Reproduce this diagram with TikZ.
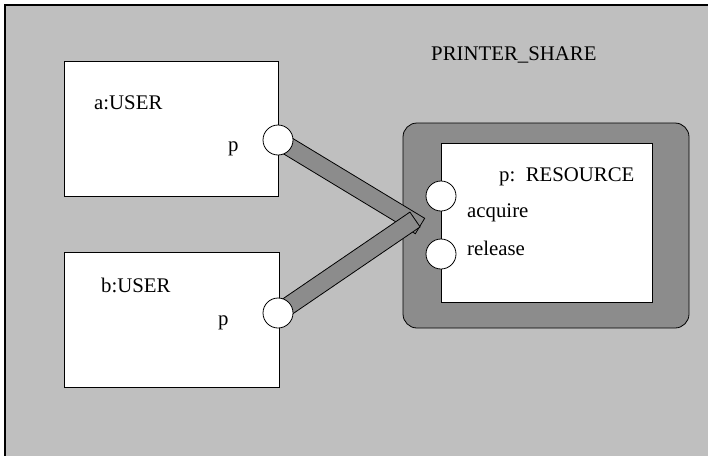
\documentclass[tikz,border=0pt]{standalone}
\usepackage{fontspec}
\setmainfont{Liberation Serif}
\usetikzlibrary{calc}
\definecolor{bgray}{RGB}{191,191,191}
\definecolor{dgray}{RGB}{140,140,140}
\tikzset{
  plainbox/.style={draw=black, line width=0.8pt, fill=white, inner sep=0pt},
  port/.style={circle, draw=black, line width=0.8pt, fill=white, inner sep=0pt, minimum size=30pt},
  lbl/.style={inner sep=0pt, anchor=base west, font=\fontsize{20.8}{25}\selectfont},
  shell/.style={draw=black, line width=0.8pt, fill=dgray, rounded corners=14pt, inner sep=0pt},
}
% thick bar from #1 to #2, outlined
\newcommand{\linkbar}[2]{%
  \filldraw[fill=dgray, draw=black, line width=0.8pt]
    ($(#1)!9pt!90:(#2)$) -- ($(#2)!9pt!-90:(#1)$) --
    ($(#2)!9pt!90:(#1)$) -- ($(#1)!9pt!-90:(#2)$) -- cycle;}
\begin{document}
\begin{tikzpicture}[x=1pt, y=-1pt]
  \useasboundingbox (0,0) rectangle (708,455);
  % outer frame
  \fill[bgray] (5,5) rectangle (712,460);
  \draw[line width=1.8pt] (5,460) -- (5,5) -- (712,5);

  % user components
  \node[plainbox, minimum width=214pt, minimum height=135pt] (ua) at (171,128.5) {};
  \node[plainbox, minimum width=215pt, minimum height=135pt] (ub) at (171.5,319.5) {};
  \node[lbl] (ualbl) at (94,109) {a:USER};
  \node[lbl] (ublbl) at (101,292) {b:USER};
  \node[lbl] (uap) at (228,151) {p};
  \node[lbl] (ubp) at (218,325) {p};

  % shared resource
  \node[shell, minimum width=286pt, minimum height=205pt] (shell) at (546,225.5) {};
  \node[plainbox, minimum width=211pt, minimum height=159pt] (res) at (546.5,222.5) {};
  \node[lbl] (reslbl) at (499,181) {p:\ \ RESOURCE};
  \node[lbl] (acqlbl) at (467,217) {acquire};
  \node[lbl] (rellbl) at (467,255) {release};
  \node[lbl] (title) at (431,60) {PRINTER\_SHARE};

  % port positions and bar ends
  \coordinate (pa) at (278,140);
  \coordinate (pb) at (278,313);
  \coordinate (tipA) at (420,226);
  \coordinate (tipB) at (415,219.5);

  % bindings
  \linkbar{pa}{tipA}
  \linkbar{pb}{tipB}

  % ports
  \node[port] (portA) at (pa) {};
  \node[port] (portB) at (pb) {};
  \node[port] (acq) at (441,196) {};
  \node[port] (rel) at (441,254) {};
\end{tikzpicture}
\end{document}
